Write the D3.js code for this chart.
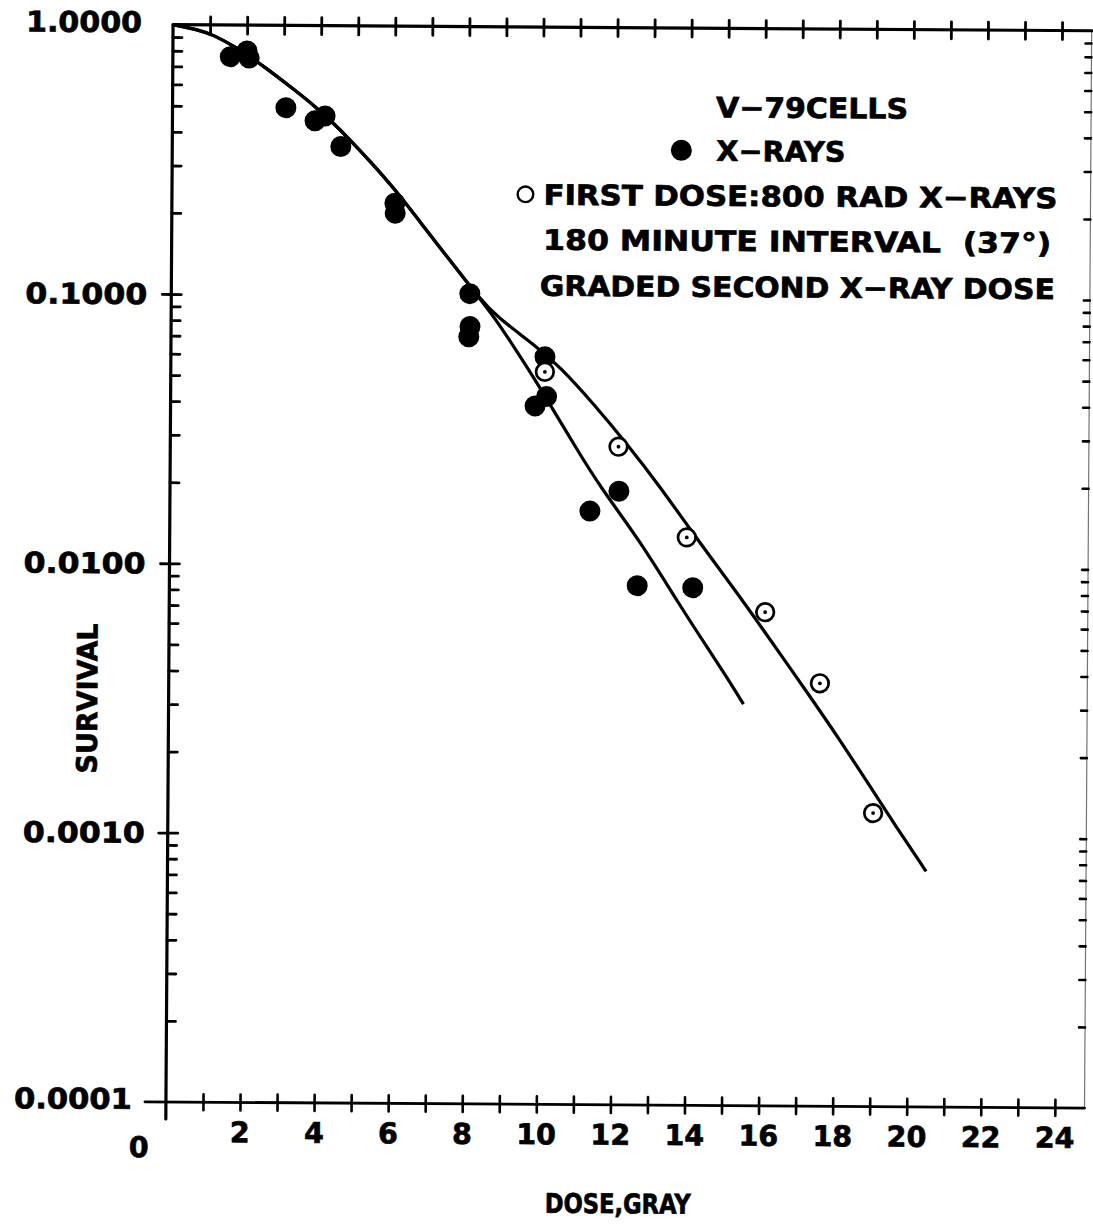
<!DOCTYPE html>
<html>
<head>
<meta charset="utf-8">
<script src="https://cdn.jsdelivr.net/npm/d3@7"></script>
<style>
  html, body { margin: 0; padding: 0; background: #fff; }
  svg { display: block; }
  text { font-family: "DejaVu Sans", "Liberation Sans", sans-serif; font-weight: bold; fill: #000;
         stroke: #000; stroke-width: 0.7px; }
</style>
</head>
<body>
<script>
// Survival of V-79 cells after graded X-ray doses: single doses (filled)
// and split doses, 800 rad first dose + 180 min at 37° + graded second dose (open).

const xTickValues = d3.range(1, 25);
const xTickLabels = [2, 4, 6, 8, 10, 12, 14, 16, 18, 20, 22, 24];
const yTickValues = [1, 0.1, 0.01, 0.001, 0.0001];
const yTickLabels = ["1.0000", "0.1000", "0.0100", "0.0010", "0.0001"];

// single X-ray doses (Gy) and surviving fraction
const singleDose = [1.55, 2.0, 2.06, 3.06, 3.85, 4.12, 4.55, 6.02, 6.03, 8.06, 8.07, 8.04,
                    10.10, 10.15, 9.84, 11.34, 12.12, 12.63, 14.13];
const singleSurv = [0.763, 0.802, 0.755, 0.495, 0.443, 0.462, 0.356, 0.220, 0.202, 0.102, 0.077, 0.0705,
                    0.0597, 0.0425, 0.0392, 0.0160, 0.0190, 0.00848, 0.00836];

// split doses: total dose (Gy) and surviving fraction
const splitDose = [10.10, 12.10, 13.96, 16.09, 17.58, 19.04];
const splitSurv = [0.0525, 0.0278, 0.01285, 0.00681, 0.00372, 0.00123];

// fitted curves: common shoulder, then the two branches
const shoulderDose = [0, 0.73, 1.08, 1.62, 2.44, 3.3, 3.85, 4.33, 4.8, 5.34, 6.07, 6.7, 7.58, 8.33];
const shoulderSurv = [1.0, 0.955, 0.918, 0.841, 0.708, 0.575, 0.501, 0.437, 0.377, 0.315, 0.243, 0.188, 0.132, 0.0977];

const splitFitDose = [8.79, 9.88, 10.51, 11.41, 12.32, 13.23, 14.12, 15.32, 15.95, 17.40, 18.13, 18.86, 19.59, 20.48];
const splitFitSurv = [0.0838, 0.0650, 0.0548, 0.0402, 0.0286, 0.0198, 0.01334, 0.00804, 0.00610, 0.00320, 0.00229, 0.00162, 0.001135, 0.00075];

const singleFitDose = [8.79, 9.43, 9.97, 10.97, 11.61, 12.70, 13.79, 14.52, 15.06, 15.52];
const singleFitSurv = [0.0813, 0.0597, 0.0459, 0.0272, 0.0197, 0.01245, 0.00716, 0.00505, 0.00391, 0.00310];

const legendLines = ["V\u221279CELLS", "X\u2212RAYS", "FIRST DOSE:800 RAD X\u2212RAYS",
                     "180 MINUTE INTERVAL  (37\u00B0)", "GRADED SECOND X\u2212RAY DOSE"];

const W = 1093, H = 1224;
const xMaxFrame = 24.8;

const svg = d3.select("body").append("svg")
  .attr("width", W).attr("height", H)
  .attr("viewBox", `0 0 ${W} ${H}`);

svg.append("rect").attr("width", W).attr("height", H).attr("fill", "#fff");

// the printed sheet sits a little askew
const g = svg.append("g").attr("transform", "rotate(0.38,630,566)");

const x = d3.scaleLinear().domain([0, 25]).range([169.5, 1095.5]);
const y = d3.scaleLog().domain([1e-4, 1]).range([1105, 27.7]);

const x0 = x(0), xR = x(xMaxFrame), yTop = y(1), yBot = y(1e-4);

// log minor ticks
const minor = [];
for (let e = -4; e < 0; e++) for (let k = 2; k <= 9; k++) minor.push(k * Math.pow(10, e));

function styleAxis(sel, w) {
  sel.select(".domain").remove();
  sel.selectAll(".tick line").attr("stroke", "#000").attr("stroke-width", w).attr("stroke-linecap", "round");
  sel.selectAll(".tick text").remove();
}

// bottom axis ticks (crossing)
g.append("g").attr("transform", `translate(0,${yBot})`)
  .call(d3.axisBottom(x).tickValues(xTickValues).tickSize(8).tickFormat(""))
  .call(s => styleAxis(s, 2.6));
g.append("g").attr("transform", `translate(0,${yBot})`)
  .call(d3.axisTop(x).tickValues(xTickValues).tickSize(8).tickFormat(""))
  .call(s => styleAxis(s, 2.6));

// top axis ticks (crossing)
g.append("g").attr("transform", `translate(0,${yTop})`)
  .call(d3.axisBottom(x).tickValues(xTickValues).tickSize(9).tickFormat(""))
  .call(s => styleAxis(s, 2.8));
g.append("g").attr("transform", `translate(0,${yTop})`)
  .call(d3.axisTop(x).tickValues(xTickValues).tickSize(8).tickFormat(""))
  .call(s => styleAxis(s, 2.8));

// left axis: inward minor ticks, crossing decade ticks
g.append("g").attr("transform", `translate(${x0},0)`)
  .call(d3.axisRight(y).tickValues(minor).tickSize(9).tickFormat(""))
  .call(s => styleAxis(s, 2.8));
g.append("g").attr("transform", `translate(${x0},0)`)
  .call(d3.axisRight(y).tickValues(yTickValues.slice(1, 4)).tickSize(10).tickFormat(""))
  .call(s => styleAxis(s, 2.8));
g.append("g").attr("transform", `translate(${x0},0)`)
  .call(d3.axisLeft(y).tickValues(yTickValues.slice(1, 4)).tickSize(9).tickFormat(""))
  .call(s => styleAxis(s, 2.8));

// right axis: short inward ticks
g.append("g").attr("transform", `translate(${xR},0)`)
  .call(d3.axisLeft(y).tickValues(minor.concat(yTickValues.slice(1, 4))).tickSize(6).tickFormat(""))
  .call(s => styleAxis(s, 2.6));

// frame lines
const frame = g.append("g").attr("stroke", "#000").attr("fill", "none").attr("stroke-linecap", "round");
frame.append("line").attr("x1", x0).attr("x2", x0).attr("y1", yTop).attr("y2", yBot + 17).attr("stroke-width", 3.2);
frame.append("line").attr("x1", x0).attr("x2", xR).attr("y1", yTop).attr("y2", yTop).attr("stroke-width", 3.2);
frame.append("line").attr("x1", x0 - 21).attr("x2", xR).attr("y1", yBot).attr("y2", yBot).attr("stroke-width", 2.8);
frame.append("line").attr("x1", xR).attr("x2", xR).attr("y1", yTop).attr("y2", yBot)
  .attr("stroke-width", 1.2).attr("stroke-opacity", 0.55);

// tick labels
const yLabelGap = [31, 24, 24, 23, 34];
const yLabelShift = [-2.5, 0, 0, 0, -3];
const yLabelWidth = [116, 122, 122, 122, 118];
g.append("g").selectAll("text").data(yTickValues).join("text")
  .attr("x", (d, i) => x0 - yLabelGap[i])
  .attr("y", (d, i) => y(d) + yLabelShift[i] + 10.3)
  .attr("text-anchor", "end")
  .attr("font-size", 28.5)
  .attr("textLength", (d, i) => yLabelWidth[i]).attr("lengthAdjust", "spacingAndGlyphs")
  .text((d, i) => yTickLabels[i]);

g.append("g").selectAll("text").data(xTickLabels).join("text")
  .attr("x", d => x(d))
  .attr("y", yBot + 29.5 + 10.3)
  .attr("text-anchor", "middle")
  .attr("font-size", 28.5)
  .text(d => d);

g.append("text").attr("x", x0 - 27).attr("y", yBot + 45 + 10.3)
  .attr("text-anchor", "middle").attr("font-size", 28.5).text("0");

// axis titles
g.append("text").attr("x", 622).attr("y", 1203 + 10.3)
  .attr("text-anchor", "middle").attr("font-size", 27)
  .attr("textLength", 146).attr("lengthAdjust", "spacingAndGlyphs")
  .text("DOSE,GRAY");

g.append("text").attr("transform", "translate(98,702) rotate(-90)")
  .attr("text-anchor", "middle").attr("font-size", 28)
  .attr("textLength", 150).attr("lengthAdjust", "spacingAndGlyphs")
  .text("SURVIVAL");

// fitted curves (smoothed)
const line = d3.line().x(d => x(d[0])).y(d => y(d[1])).curve(d3.curveBasis);
const shoulderPts = shoulderDose.map((d, i) => [d, shoulderSurv[i]]);
const upperPts = shoulderPts.concat(splitFitDose.map((d, i) => [d, splitFitSurv[i]]));
const lowerPts = shoulderPts.concat(singleFitDose.map((d, i) => [d, singleFitSurv[i]]));

const curves = g.append("g").attr("fill", "none").attr("stroke", "#000")
  .attr("stroke-width", 3.2).attr("stroke-linejoin", "round").attr("stroke-linecap", "butt");
curves.append("path").attr("d", line(upperPts));
curves.append("path").attr("d", line(lowerPts));

// single-dose points
g.append("g").selectAll("circle").data(singleDose).join("circle")
  .attr("cx", d => x(d))
  .attr("cy", (d, i) => y(singleSurv[i]))
  .attr("r", 10.5).attr("fill", "#000");

// split-dose points
const open = g.append("g").selectAll("g").data(splitDose).join("g")
  .attr("transform", (d, i) => `translate(${x(d)},${y(splitSurv[i])})`);
open.append("circle").attr("r", 8.8).attr("fill", "#fff").attr("stroke", "#000").attr("stroke-width", 2.7);
open.append("circle").attr("r", 1.9).attr("fill", "#000");

// legend
const leg = g.append("g");
const legX = [713, 713.6, 541, 541, 538];
const legY = [106.5, 150, 195, 240, 286];
const legW = [192, 129, 514, 508, 515];
leg.selectAll("text").data(legendLines).join("text")
  .attr("x", (d, i) => legX[i]).attr("y", (d, i) => legY[i] + 10.3)
  .attr("font-size", 28)
  .attr("textLength", (d, i) => legW[i]).attr("lengthAdjust", "spacingAndGlyphs")
  .style("white-space", "pre")
  .text(d => d);
leg.append("circle").attr("cx", 678.6).attr("cy", 150).attr("r", 10.5).attr("fill", "#000");
leg.append("circle").attr("cx", 523).attr("cy", 195).attr("r", 7.8)
  .attr("fill", "#fff").attr("stroke", "#000").attr("stroke-width", 2.4);
</script>
</body>
</html>
